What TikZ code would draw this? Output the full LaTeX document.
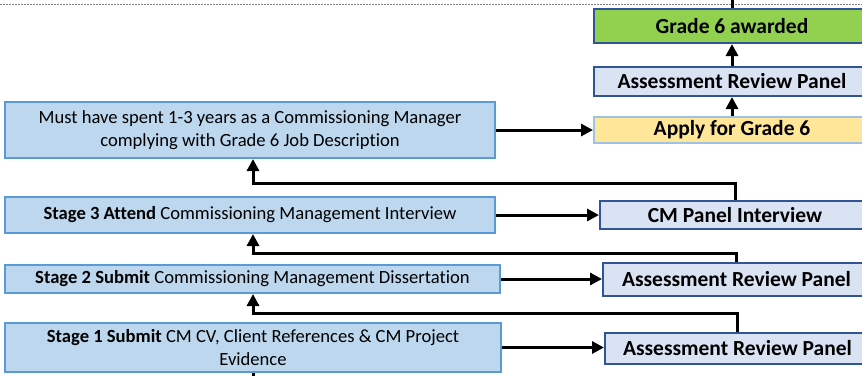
\documentclass[tikz,border=0pt]{standalone}
\usepackage{fontspec}
\setmainfont[Ligatures=NoCommon]{Carlito}
\usetikzlibrary{arrows.meta}
\definecolor{stagefill}{RGB}{189,215,238}
\definecolor{stageline}{RGB}{91,155,213}
\definecolor{panelfill}{RGB}{218,227,243}
\definecolor{panelline}{RGB}{47,85,151}
\definecolor{applyfill}{RGB}{255,230,153}
\definecolor{applyline}{RGB}{157,195,230}
\definecolor{gradefill}{RGB}{146,208,80}

\begin{document}
\begin{tikzpicture}[x=1pt,y=-1pt,
  stagebox/.style={draw=stageline,fill=stagefill,line width=2pt,inner sep=0pt,
    align=center,font=\fontsize{18.6}{22.5}\selectfont},
  panelbox/.style={draw=panelline,fill=panelfill,line width=2pt,inner sep=0pt,
    font=\fontsize{21.5}{24}\selectfont\bfseries},
  flow/.style={line width=3pt,-{Triangle[length=12pt,width=12pt]}}]
\useasboundingbox (0,0) rectangle (862,376);
% top dashed border
\draw[gray,line width=0.6pt,dash pattern=on 2pt off 1pt] (0,4) -- (862,4);

% left column: stages
\node[stagebox,minimum width=490,minimum height=56] (must) at (250,130)
  {Must have spent 1-3 years as a Commissioning Manager\\complying with Grade 6 Job Description};
\node[stagebox,minimum width=490,minimum height=36] (stage3) at (250,215)
  {\textbf{Stage 3 Attend} Commissioning Management Interview};
\node[stagebox,minimum width=495,minimum height=28] (stage2) at (252.5,279)
  {\textbf{Stage 2 Submit} Commissioning Management Dissertation};
\node[stagebox,minimum width=496,minimum height=49] (stage1) at (253,347.5)
  {\textbf{Stage 1 Submit} CM CV, Client References \& CM Project\\Evidence};

% right column: panels
\node[panelbox,fill=gradefill,minimum width=276,minimum height=34] (grade) at (732,26)
  {Grade 6 awarded};
\node[panelbox,minimum width=276,minimum height=29] (arptop) at (732,81.5)
  {Assessment Review Panel};
\node[panelbox,draw=applyline,fill=applyfill,minimum width=276,minimum height=26] (apply) at (732,130)
  {Apply for Grade 6};
\node[panelbox,minimum width=270,minimum height=28] (cmpanel) at (735,215)
  {CM Panel Interview};
\node[panelbox,minimum width=267,minimum height=33] (arp2) at (736.5,279.5)
  {Assessment Review Panel};
\node[panelbox,minimum width=265,minimum height=31] (arp1) at (737.5,348.5)
  {Assessment Review Panel};

% free ends at the picture edges
\coordinate (topend) at (732,0);
\coordinate (botend) at (253,376);

% forward arrows
\draw[flow] (must.east) -- (apply.west);
\draw[flow] (stage3.east) -- (cmpanel.west);
\draw[flow] (stage2.east) -- (arp2.west |- stage2.east);
\draw[flow] (stage1.east) -- (arp1.west |- stage1.east);
\draw[flow] (apply.north) -- (arptop.south);
\draw[flow] (arptop.north) -- (grade.south);
\draw[line width=3pt] (grade.north) -- (topend);
\draw[line width=3pt] (botend) -- (stage1.south -| botend);

% feedback arrows
\draw[flow] (cmpanel.north) |- (253,183) -- ([xshift=3]must.south);
\draw[flow] (arp2.north) |- (253,253) -- ([xshift=3]stage3.south);
\draw[flow] (arp1.north) |- (253,313) -- (stage2.south -| botend);
\end{tikzpicture}
\end{document}
